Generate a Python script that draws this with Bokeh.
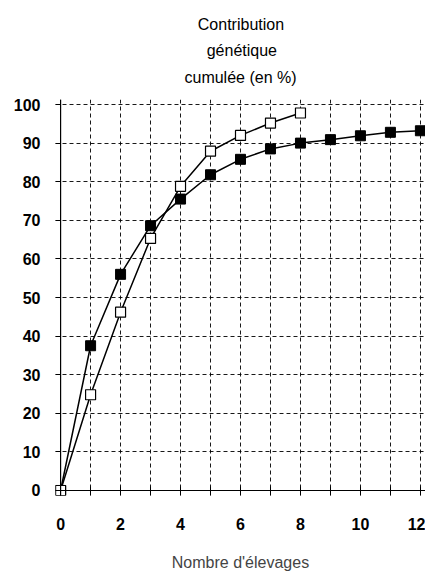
from bokeh.plotting import figure
from bokeh.models import Range1d, FixedTicker, Span, Spacer
from bokeh.layouts import row
from bokeh.embed import file_html
from bokeh.resources import INLINE

# data
x_filled = [0, 1, 2, 3, 4, 5, 6, 7, 8, 9, 10, 11, 12]
y_filled = [0, 37.5, 56.0, 68.6, 75.5, 81.8, 85.8, 88.5, 90.0, 90.9, 91.9, 92.8, 93.2]
x_open = [0, 1, 2, 3, 4, 5, 6, 7, 8]
y_open = [0, 24.8, 46.2, 65.3, 78.8, 87.9, 92.0, 95.2, 97.8]
x_ticks = [0, 2, 4, 6, 8, 10, 12]
x_minor = [1, 3, 5, 7, 9, 11]
x_grid = list(range(0, 13))
y_ticks = [0, 10, 20, 30, 40, 50, 60, 70, 80, 90, 100]
title_lines = ["Contribution", "génétique", "cumulée (en %)"]
title_indent = [3, 5, 0]  # non-breaking spaces to centre each line
x_label = "Nombre d'élevages"

FONT = "Liberation Sans"

p = figure(frame_width=370, frame_height=396, output_backend="svg", toolbar_location=None,
           x_range=Range1d(-0.17, 12.17), y_range=Range1d(-1.3, 101.3),
           min_border_left=0, min_border_right=0, min_border_top=0, min_border_bottom=0)
p.outline_line_color = None
p.background_fill_color = "white"
p.border_fill_color = "white"

p.title.text = "\n".join("\u00a0" * n + t for n, t in zip(title_indent, title_lines))
p.title.align = "center"
p.title.text_font = FONT
p.title.text_font_size = "16px"
p.title.text_font_style = "normal"
p.title.text_color = "black"
p.title.text_line_height = 1.56
p.title.standoff = 27

p.xgrid.ticker = FixedTicker(ticks=x_grid)
p.ygrid.ticker = FixedTicker(ticks=y_ticks)
for g in (p.xgrid, p.ygrid):
    g.grid_line_color = "black"
    g.grid_line_dash = "4 3"
    g.grid_line_width = 1
    g.grid_line_alpha = 0.9

p.xaxis.ticker = FixedTicker(ticks=x_ticks, minor_ticks=x_minor)
p.yaxis.ticker = FixedTicker(ticks=y_ticks)
for ax in (p.xaxis, p.yaxis):
    ax.axis_line_color = None
    ax.major_label_text_font = FONT
    ax.major_label_text_font_style = "bold"
    ax.major_label_text_font_size = "16px"
    ax.major_label_text_color = "black"
    ax.major_tick_line_color = "black"
    ax.minor_tick_line_color = "black"
    ax.major_tick_out = 0
    ax.minor_tick_out = 0
p.xaxis.major_tick_in = 9
p.xaxis.minor_tick_in = 9
p.yaxis.major_tick_in = 5
p.yaxis.minor_tick_in = 0
p.xaxis.major_label_standoff = 22
p.yaxis.major_label_standoff = 15
p.xaxis.axis_label = x_label
p.xaxis.axis_label_text_font = FONT
p.xaxis.axis_label_text_font_style = "normal"
p.xaxis.axis_label_text_font_size = "16px"
p.xaxis.axis_label_standoff = 21

p.add_layout(Span(location=0, dimension="height", line_color="black", line_width=1.2))
p.add_layout(Span(location=0, dimension="width", line_color="black", line_width=1.2))

p.line(x_filled, y_filled, line_color="black", line_width=1.5)
p.line(x_open, y_open, line_color="black", line_width=1.5)
p.scatter(x_filled, y_filled, marker="square", size=10, fill_color="black", line_color="black")
p.scatter(x_open, y_open, marker="square", size=10, fill_color="white", line_color="black", line_width=1.2)

layout = row(Spacer(width=10, height=10), p)
open("out.html", "w").write(file_html(layout, INLINE))
